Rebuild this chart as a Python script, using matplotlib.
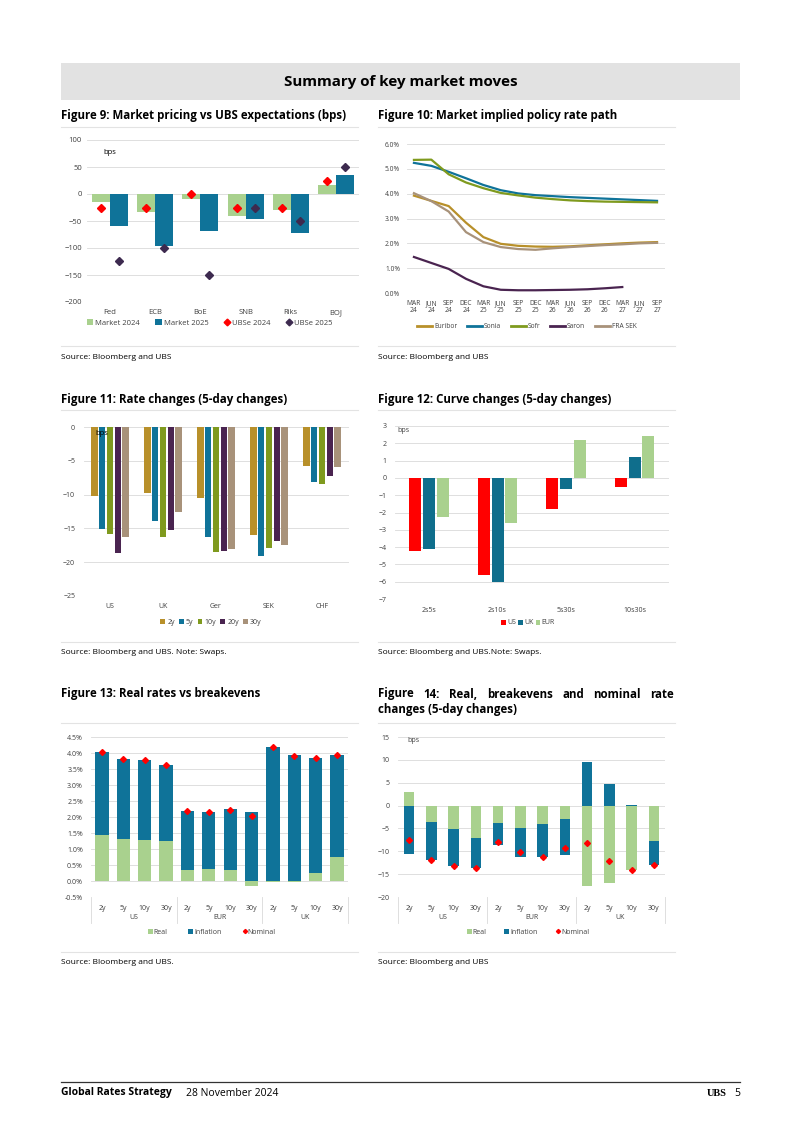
import numpy as np
import matplotlib
matplotlib.use('Agg')
import matplotlib.pyplot as plt
from matplotlib.lines import Line2D
from matplotlib.patches import Rectangle
import matplotlib.transforms as mtrans

plt.rcParams['font.family'] = ['Open Sans', 'DejaVu Sans']

# ---- data ----
# Fig 9
banks = ['Fed', 'ECB', 'BoE', 'SNB', 'Riks', 'BOJ']
mkt_2024 = [-15, -34, -9, -40, -30, 16]
mkt_2025 = [-60, -97, -68, -46, -73, 36]
ubse_2024 = [-25, -25, 0, -25, -25, 25]
ubse_2025 = [-125, -100, -150, -25, -50, 50]

# Fig 10
dates = ['MAR\n24', 'JUN\n24', 'SEP\n24', 'DEC\n24', 'MAR\n25', 'JUN\n25', 'SEP\n25', 'DEC\n25',
         'MAR\n26', 'JUN\n26', 'SEP\n26', 'DEC\n26', 'MAR\n27', 'JUN\n27', 'SEP\n27']
euribor = [3.92, 3.71, 3.50, 2.83, 2.25, 1.98, 1.90, 1.87, 1.86, 1.88, 1.92, 1.96, 2.00, 2.03, 2.05]
sonia = [5.24, 5.12, 4.88, 4.62, 4.35, 4.14, 4.01, 3.94, 3.90, 3.86, 3.83, 3.80, 3.77, 3.74, 3.71]
sofr = [5.36, 5.37, 4.78, 4.45, 4.22, 4.03, 3.93, 3.84, 3.78, 3.73, 3.70, 3.68, 3.67, 3.66, 3.65]
saron = [1.45, 1.21, 0.97, 0.57, 0.27, 0.13, 0.11, 0.11, 0.12, 0.13, 0.15, 0.19, 0.24, None, None]
fra_sek = [4.02, 3.70, 3.28, 2.45, 2.05, 1.85, 1.77, 1.74, 1.80, 1.85, 1.89, 1.93, 1.96, 2.00, 2.02]

# Fig 11
countries = ['US', 'UK', 'Ger', 'SEK', 'CHF']
tenors = ['2y', '5y', '10y', '20y', '30y']
rate_chg = {
    '2y': [-10.2, -9.7, -10.5, -16.0, -5.7],
    '5y': [-15.1, -13.9, -16.3, -19.1, -8.2],
    '10y': [-15.8, -16.2, -18.5, -17.9, -8.4],
    '20y': [-18.6, -15.3, -18.3, -16.8, -7.3],
    '30y': [-16.2, -12.6, -18.0, -17.5, -5.9],
}

# Fig 12
curves = ['2s5s', '2s10s', '5s30s', '10s30s']
curve_us = [-4.25, -5.6, -1.8, -0.5]
curve_uk = [-4.1, -6.0, -0.65, 1.2]
curve_eur = [-2.25, -2.6, 2.2, 2.45]

# Fig 13 / 14
groups = ['US', 'EUR', 'UK']
mats = ['2y', '5y', '10y', '30y']
real_lvl = [1.43, 1.31, 1.29, 1.24, 0.35, 0.37, 0.33, -0.15, -0.02, -0.03, 0.25, 0.75]
infl_lvl = [2.60, 2.51, 2.50, 2.39, 1.85, 1.80, 1.91, 2.16, 4.19, 3.94, 3.60, 3.18]
nom_lvl = [4.04, 3.81, 3.78, 3.63, 2.20, 2.17, 2.23, 2.02, 4.18, 3.92, 3.85, 3.93]

real_chg = [3.0, -3.6, -5.1, -7.0, -3.8, -5.0, -4.1, -2.9, -17.6, -16.9, -14.1, -7.8]
infl_chg = [-10.6, -8.2, -8.2, -6.6, -4.9, -6.3, -7.2, -8.0, 9.5, 4.8, 0.1, -5.2]
nom_chg = [-7.5, -11.8, -13.2, -13.6, -8.0, -10.2, -11.3, -9.3, -8.2, -12.2, -14.2, -12.9]

# ---- colours ----
GREEN = '#a9d18e'
BLUE = '#0f7399'
RED = '#ff0000'
DARK = '#3d2a4f'
GOLD = '#b8902a'
OLIVE = '#7f9a1e'
PURPLE = '#4a2450'
TAN = '#a8927a'
GRID = '#d9d9d9'
TXT = '#404040'

W, H = 802, 1134
fig = plt.figure(figsize=(W / 100, H / 100), dpi=100)


def axes_px(l, t, r, b):
    return fig.add_axes([l / W, 1 - b / H, (r - l) / W, (b - t) / H])


def ftext(x, y, s, **kw):
    return fig.text(x / W, 1 - y / H, s, **kw)


def hline(x0, x1, y, color='#e3e3e3', lw=0.8):
    fig.add_artist(Line2D([x0 / W, x1 / W], [1 - y / H, 1 - y / H],
                          transform=fig.transFigure, color=color, lw=lw))


def style(ax, fs=5.5):
    for s in ax.spines.values():
        s.set_visible(False)
    ax.set_axisbelow(True)
    ax.yaxis.grid(True, color=GRID, lw=0.6)
    ax.tick_params(length=0, labelsize=fs, colors=TXT)


def legend(ax, x, y, order, fs=5.5, **kw):
    kw.setdefault('handletextpad', 0.3)
    h, l = ax.get_legend_handles_labels()
    lookup = dict(zip(l, h))
    leg = ax.legend([lookup[o] for o in order], order, loc='center',
                    bbox_to_anchor=(x / W, 1 - y / H), bbox_transform=fig.transFigure,
                    frameon=False, fontsize=fs, borderaxespad=0, **kw)
    for t in leg.get_texts():
        t.set_color(TXT)
    return leg


def stacked_bottom(base, top):
    return [b if (b >= 0) == (t >= 0) else 0 for b, t in zip(base, top)]


def justified(words, x0, x1, y, **kw):
    # spread the words of one line evenly between x0 and x1
    r = fig.canvas.get_renderer()
    items = [ftext(x0, y, w, **kw) for w in words]
    widths = [t.get_window_extent(r).width for t in items]
    gap = (x1 - x0 - sum(widths)) / (len(words) - 1)
    pos = x0
    for t, wd in zip(items, widths):
        t.set_x(pos / W)
        pos += wd + gap


# ---- header ----
fig.add_artist(Rectangle((61 / W, 1 - 100 / H), 679 / W, 37 / H, transform=fig.transFigure,
                         color='#e2e2e2', lw=0))
ftext(401, 82, 'Summary of key market moves', ha='center', va='center', fontsize=10.9,
      fontweight='bold', color='black')

TF = dict(fontsize=8.3, fontweight='bold', color='black', va='center')
SF = dict(fontsize=6, color='black', va='center')

ftext(61, 116, 'Figure 9: Market pricing vs UBS expectations (bps)', **TF)
ftext(378, 116, 'Figure 10: Market implied policy rate path', **TF)
hline(61, 358, 127)
hline(378, 675, 127)

# ---- Fig 9 ----
ax = axes_px(87.4, 140, 358.6, 302)
style(ax)
x = np.arange(len(banks))
ax.bar(x - 0.2, mkt_2024, 0.4, color=GREEN, label='Market 2024')
ax.bar(x + 0.2, mkt_2025, 0.4, color=BLUE, label='Market 2025')
ax.plot(x - 0.2, ubse_2024, 'D', color=RED, ms=3.8, ls='none', label='UBSe 2024')
ax.plot(x + 0.2, ubse_2025, 'D', color=DARK, ms=3.8, ls='none', label='UBSe 2025')
ax.set_xlim(-0.5, len(banks) - 0.5)
ax.set_ylim(-200, 100)
ax.set_yticks(range(-200, 101, 50))
ax.set_xticks(x, banks)
ax.tick_params(axis='x', pad=5)
ax.tick_params(axis='y', pad=4)
ftext(103, 153, 'bps', fontsize=5.5, color='black', va='center')
legend(ax, 210, 323, ['Market 2024', 'Market 2025', 'UBSe 2024', 'UBSe 2025'],
       ncol=4, handlelength=0.8, columnspacing=2.0, markerscale=0.9)

# ---- Fig 10 ----
ax = axes_px(407, 144, 665, 293)
style(ax, fs=4.8)
xs = np.arange(len(dates))
names10 = ['Euribor', 'Sonia', 'Sofr', 'Saron', 'FRA SEK']
for vals, col, lab in zip([euribor, sonia, sofr, saron, fra_sek],
                          [GOLD, BLUE, OLIVE, PURPLE, TAN], names10):
    v = np.array([np.nan if a is None else a for a in vals], dtype=float)
    ax.plot(xs, v, color=col, lw=1.6, label=lab)
ax.set_xlim(-0.4, 14.46)
ax.set_ylim(0, 6)
ax.set_yticks(range(0, 7))
ax.set_yticklabels([f'{i:.1f}%' for i in range(0, 7)])
ax.set_xticks(xs, dates, linespacing=1.1)
ax.tick_params(axis='x', pad=5)
ax.tick_params(axis='y', pad=5)
leg = legend(ax, 527, 327, names10, fs=4.8, ncol=5, handlelength=2.2, columnspacing=1.5)
for ln in leg.get_lines():
    ln.set_linewidth(2.0)

ftext(61, 357, 'Source: Bloomberg and UBS', **SF)
ftext(378, 357, 'Source: Bloomberg and UBS', **SF)
hline(61, 358, 346)
hline(378, 675, 346)

# ---- Fig 11 ----
ftext(61, 399, 'Figure 11: Rate changes (5-day changes)', **TF)
ftext(378, 399, 'Figure 12: Curve changes (5-day changes)', **TF)
hline(61, 358, 410)
hline(378, 675, 410)

ax = axes_px(83.5, 427, 348.5, 596)
style(ax, fs=5)
x = np.arange(len(countries))
cols = [GOLD, BLUE, OLIVE, PURPLE, TAN]
for i, (t, c) in enumerate(zip(tenors, cols)):
    ax.bar(x + (i - 2) * 0.148, rate_chg[t], 0.125, color=c, label=t)
ax.set_xlim(-0.5, len(countries) - 0.5)
ax.set_ylim(-25, 0)
ax.set_yticks(range(-25, 1, 5))
ax.set_xticks(x, countries)
ax.tick_params(axis='x', pad=5)
ax.tick_params(axis='y', pad=6)
ftext(95, 434, 'bps', fontsize=5.5, color='black', va='center')
legend(ax, 211, 622, tenors, fs=5, ncol=5, handlelength=0.7, columnspacing=0.6)

# ---- Fig 12 ----
ax = axes_px(394.7, 426, 669, 599)
style(ax, fs=5)
x = np.arange(len(curves))
ax.bar(x - 0.2, curve_us, 0.175, color=RED, label='US')
ax.bar(x, curve_uk, 0.175, color='#0f6e8c', label='UK')
ax.bar(x + 0.2, curve_eur, 0.175, color=GREEN, label='EUR')
ax.set_xlim(-0.5, len(curves) - 0.5)
ax.set_ylim(-7, 3)
ax.set_yticks(range(-7, 4))
ax.set_xticks(x, curves)
ax.tick_params(axis='x', pad=6)
ax.tick_params(axis='y', pad=6)
ftext(397, 430, 'bps', fontsize=5, color=TXT, va='center')
legend(ax, 528, 623, ['US', 'UK', 'EUR'], fs=5, ncol=3, handlelength=0.7, columnspacing=0.3,
       handletextpad=0.15)

ftext(61, 653, 'Source: Bloomberg and UBS. Note: Swaps.', **SF)
ftext(378, 653, 'Source: Bloomberg and UBS.Note: Swaps.', **SF)
hline(61, 358, 642)
hline(378, 675, 642)

# ---- Fig 13 / 14 ----
ftext(61, 694, 'Figure 13: Real rates vs breakevens', **TF)
justified(['Figure', '14:', 'Real,', 'breakevens', 'and', 'nominal', 'rate'], 378, 674, 694, **TF)
ftext(378, 710, 'changes (5-day changes)', **TF)
hline(61, 358, 723)
hline(378, 675, 723)

labels12 = mats * len(groups)
names13 = ['Real', 'Inflation', 'Nominal']


def group_axis(ax):
    tr = mtrans.blended_transform_factory(ax.transData, ax.transAxes)
    n = len(mats)
    for g in range(len(groups) + 1):
        xx = g * n - 0.5
        ax.plot([xx, xx], [0, -0.16], transform=tr, color=GRID, lw=0.6, clip_on=False)
    for g, name in enumerate(groups):
        ax.text(g * n + (n - 1) / 2, -0.13, name, transform=tr, ha='center', va='center',
                fontsize=5, color=TXT)


ax = axes_px(91.3, 737, 347.7, 897)
style(ax, fs=5)
x = np.arange(len(labels12))
ax.bar(x, real_lvl, 0.62, color=GREEN, label='Real')
ax.bar(x, infl_lvl, 0.62, bottom=stacked_bottom(real_lvl, infl_lvl), color=BLUE, label='Inflation')
ax.plot(x, nom_lvl, 'D', color=RED, ms=3, ls='none', label='Nominal')
ax.set_xlim(-0.5, len(labels12) - 0.5)
ax.set_ylim(-0.5, 4.5)
yt = np.arange(-0.5, 4.51, 0.5)
ax.set_yticks(yt)
ax.set_yticklabels([f'{v:.1f}%' for v in yt])
ax.set_xticks(x, labels12)
ax.tick_params(axis='x', pad=6)
ax.tick_params(axis='y', pad=6)
group_axis(ax)
legend(ax, 212, 932, names13, fs=5, ncol=3, handlelength=0.7, columnspacing=3.0,
       handletextpad=0.1, markerscale=0.7)

ax = axes_px(398, 737, 665, 897)
style(ax, fs=5)
ax.bar(x, real_chg, 0.48, color=GREEN, label='Real')
ax.bar(x, infl_chg, 0.48, bottom=stacked_bottom(real_chg, infl_chg), color=BLUE, label='Inflation')
ax.plot(x, nom_chg, 'D', color=RED, ms=3, ls='none', label='Nominal')
ax.set_xlim(-0.5, len(labels12) - 0.5)
ax.set_ylim(-20, 15)
ax.set_yticks(range(-20, 16, 5))
ax.set_xticks(x, labels12)
ax.tick_params(axis='x', pad=6)
ax.tick_params(axis='y', pad=6)
group_axis(ax)
ftext(407, 740, 'bps', fontsize=5, color=TXT, va='center')
legend(ax, 528, 932, names13, fs=5, ncol=3, handlelength=0.7, columnspacing=2.6,
       handletextpad=0.1, markerscale=0.7)

ftext(61, 963, 'Source: Bloomberg and UBS.', **SF)
ftext(378, 963, 'Source: Bloomberg and UBS', **SF)
hline(61, 358, 952)
hline(378, 675, 952)

# ---- footer ----
hline(61, 740, 1082, color='#333333', lw=0.9)
ftext(61, 1093, 'Global Rates Strategy', fontsize=7.5, fontweight='bold', color='black', va='center')
ftext(186, 1093, '28 November 2024', fontsize=7.5, color='black', va='center')
ftext(727, 1093, 'UBS', fontsize=7.5, fontweight='bold', family='Liberation Serif', color='black',
      ha='right', va='center')
ftext(740, 1093, '5', fontsize=7.5, color='black', ha='right', va='center')

fig.savefig('out.png', dpi=100, facecolor='white')
